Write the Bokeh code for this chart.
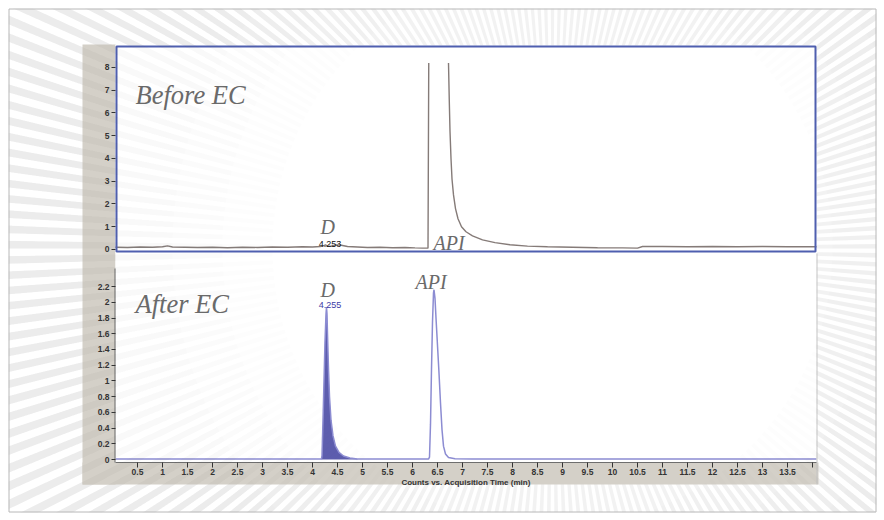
import numpy as np
from bokeh.plotting import figure
from bokeh.models import Range1d, FixedTicker, Label
from bokeh.embed import file_html
from bokeh.resources import INLINE

NaN = float("nan")

# ---------------- data ----------------
# Before EC trace (counts x10^5); NaN marks the saturated (off-scale) gap
before_time = [0.06, 0.3, 0.55, 0.8, 1.0, 1.1, 1.2, 1.45, 1.7, 2.0,
               2.3, 2.6, 2.9, 3.2, 3.5, 3.8, 4.0, 4.15, 4.22, 4.26,
               4.3, 4.38, 4.45, 4.55, 4.7, 4.9, 5.1, 5.35, 5.6, 5.85,
               6.05, 6.2, 6.31, 6.325, NaN, 6.72, 6.735, 6.75, 6.77, 6.79,
               6.82, 6.86, 6.91, 6.98, 7.07, 7.2, 7.4, 7.65, 7.95, 8.3,
               8.7, 9.2, 9.7, 10.2, 10.5, 10.6, 11.0, 11.5, 12.0, 12.5,
               13.0, 13.5, 14.08]
before_counts = [0.10, 0.09, 0.11, 0.10, 0.12, 0.16, 0.11, 0.10, 0.09, 0.10,
                 0.08, 0.10, 0.09, 0.11, 0.10, 0.12, 0.11, 0.13, 0.16, 0.20,
                 0.15, 0.14, 0.20, 0.20, 0.13, 0.11, 0.09, 0.10, 0.08, 0.09,
                 0.07, 0.06, 0.06, 8.2, NaN, 8.2, 6.6, 5.2, 4.0, 3.1,
                 2.4, 1.8, 1.35, 1.0, 0.78, 0.6, 0.42, 0.3, 0.21, 0.15,
                 0.12, 0.10, 0.08, 0.07, 0.06, 0.13, 0.13, 0.12, 0.13, 0.12,
                 0.13, 0.12, 0.12]
before_rt_label = "4.253"

# After EC trace (counts x10^7)
after_time = [0.06, 0.5, 1.0, 1.5, 2.0, 2.5, 3.0, 3.5, 4.0, 4.18,
              4.19, 4.21, 4.23, 4.25, 4.27, 4.28, 4.29, 4.30, 4.32, 4.34,
              4.37, 4.41, 4.46, 4.53, 4.62, 4.75, 4.9, 5.2, 5.6, 6.0,
              6.32, 6.34, 6.36, 6.38, 6.40, 6.42, 6.43, 6.45, 6.47, 6.50,
              6.53, 6.56, 6.59, 6.62, 6.66, 6.72, 6.85, 7.2, 8.0, 9.0,
              10.0, 11.0, 12.0, 13.0, 14.08]
after_counts = [0.005, 0.005, 0.005, 0.005, 0.005, 0.005, 0.005, 0.005, 0.005, 0.006,
                0.05, 0.5, 1.0, 1.5, 1.85, 1.94, 1.85, 1.6, 1.15, 0.8,
                0.5, 0.3, 0.17, 0.09, 0.045, 0.02, 0.008, 0.006, 0.005, 0.005,
                0.005, 0.03, 0.45, 1.15, 1.75, 2.12, 2.16, 2.05, 1.8, 1.45,
                1.1, 0.72, 0.38, 0.17, 0.07, 0.025, 0.01, 0.006, 0.005, 0.005,
                0.005, 0.005, 0.005, 0.005, 0.005]
# integrated D peak (filled) = samples 9..26 of the After EC trace
d_peak_time = after_time[9:27]
d_peak_counts = after_counts[9:27]
after_rt_label = "4.255"

x_ticks = [0.5, 1, 1.5, 2, 2.5, 3, 3.5, 4, 4.5, 5, 5.5, 6, 6.5, 7, 7.5,
           8, 8.5, 9, 9.5, 10, 10.5, 11, 11.5, 12, 12.5, 13, 13.5, 14]
x_tick_labels = ["0.5", "1", "1.5", "2", "2.5", "3", "3.5", "4", "4.5", "5",
                 "5.5", "6", "6.5", "7", "7.5", "8", "8.5", "9", "9.5", "10",
                 "10.5", "11", "11.5", "12", "12.5", "13", "13.5", ""]
top_y_ticks = [0, 1, 2, 3, 4, 5, 6, 7, 8]
top_y_labels = ["0", "1", "2", "3", "4", "5", "6", "7", "8"]
bottom_y_ticks = [0, 0.2, 0.4, 0.6, 0.8, 1.0, 1.2, 1.4, 1.6, 1.8, 2.0, 2.2]
bottom_y_labels = ["0", "0.2", "0.4", "0.6", "0.8", "1", "1.2", "1.4", "1.6",
                   "1.8", "2", "2.2"]

# ---------------- figure ----------------
X_RANGE = (0.06, 14.08)
BOT = (-0.038, 5.267)      # lower panel (x10^7) mapped over whole frame
TOP = (-9.363, 8.967)      # upper panel (x10^5) mapped over whole frame
W, H = 880, 516

p = figure(width=W, height=H, output_backend="svg", toolbar_location=None,
           x_range=Range1d(*X_RANGE), y_range=Range1d(*BOT),
           min_border_left=115, min_border_right=W - 816,
           min_border_top=45, min_border_bottom=H - 462,
           background_fill_color="white", border_fill_color="white",
           outline_line_color=None)
# page-pixel helper ranges for the decoration
p.extra_x_ranges = {"px": Range1d(115, 816)}
p.extra_y_ranges = {"top": Range1d(*TOP), "py": Range1d(462, 45)}
p.xgrid.visible = False
p.ygrid.visible = False
PX = dict(x_range_name="px", y_range_name="py")

# ---- page background: sunburst texture, border box ----
CX, CY = 552, 248
ang = np.deg2rad(np.arange(0, 360, 1.6))
p.annular_wedge(x=CX, y=CY, inner_radius=170, outer_radius=950,
                start_angle=ang, end_angle=ang + np.deg2rad(0.8),
                fill_color="#808080", fill_alpha=0.10, line_color=None,
                level="guide", **PX)
p.quad(left=[-20, 876, -20, -20], right=[8, 920, 920, 920],
       top=[-20, -20, -20, 512], bottom=[560, 560, 8, 560],
       fill_color="white", line_color=None, level="guide", **PX)

# ---- chart image panels ----
GRAY = "#d4d0c8"
p.quad(left=[82, 82], right=[115, 818], top=[44, 462], bottom=[484, 484],
       fill_color=GRAY, line_color=None, level="guide", **PX)
p.quad(left=[115], right=[816], top=[45], bottom=[462],
       fill_color="white", line_color=None, level="guide", **PX)

# ---- traces ----
p.line(before_time, before_counts, y_range_name="top", line_color="#857b78",
       line_width=1.4, level="guide")
p.varea(x=d_peak_time, y1=0, y2=d_peak_counts, fill_color="#5d5dae",
        level="guide")
p.line(after_time, after_counts, line_color="#8c8cd2", line_width=1.5,
       level="guide")

# ---- panel frames ----
p.quad(left=[116], right=[815], top=[46], bottom=[251],
       fill_color=None, line_color="#4f5faf", line_width=2,
       level="annotation", **PX)
p.segment(x0=[114.5, 816.5], y0=[268, 253], x1=[114.5, 816.5], y1=[462, 484],
          line_color=["#6a6a6a", "#c4c4c4"], line_width=1,
          level="annotation", **PX)

# ---- axes ----
def top_to_bottom(v):
    return BOT[0] + (v - TOP[0]) * (BOT[1] - BOT[0]) / (TOP[1] - TOP[0])

y_tick_pos = list(bottom_y_ticks) + [top_to_bottom(v) for v in top_y_ticks]
y_tick_txt = list(bottom_y_labels) + list(top_y_labels)
yax = p.yaxis[0]
yax.ticker = FixedTicker(ticks=y_tick_pos)
yax.major_label_overrides = {t: s for t, s in zip(y_tick_pos, y_tick_txt)}
yax.axis_line_color = None
yax.major_tick_line_color = "#333333"
yax.major_tick_out = 4
yax.major_tick_in = 0
yax.minor_tick_line_color = None
yax.major_label_standoff = 2
yax.major_label_text_font = "Liberation Sans"
yax.major_label_text_font_size = "8.5px"
yax.major_label_text_font_style = "bold"
yax.major_label_text_color = "#333333"
yax.level = "annotation"

xax = p.xaxis[0]
xax.ticker = FixedTicker(ticks=x_ticks)
xax.major_label_overrides = {t: s for t, s in zip(x_ticks, x_tick_labels)}
xax.axis_line_color = "#6e6e6e"
xax.major_tick_line_color = "#333333"
xax.major_tick_out = 5
xax.major_tick_in = 0
xax.minor_tick_line_color = None
xax.major_label_standoff = 1
xax.major_label_text_font = "Liberation Sans"
xax.major_label_text_font_size = "8.5px"
xax.major_label_text_font_style = "bold"
xax.major_label_text_color = "#333333"
xax.axis_label = "Counts vs. Acquisition Time (min)"
xax.axis_label_standoff = 0
xax.axis_label_text_font = "Liberation Sans"
xax.axis_label_text_font_size = "8px"
xax.axis_label_text_font_style = "bold"
xax.axis_label_text_color = "#333333"
xax.level = "annotation"

# ---- texts ----
def add_label(x, y, text, font="Liberation Serif", size="20px", style="italic",
              color="#6a6a6a", align="left"):
    p.add_layout(Label(x=x, y=y, text=text,
                       text_font=font, text_font_size=size, text_font_style=style,
                       text_color=color, text_align=align,
                       text_baseline="alphabetic", **PX))

add_label(135, 94, "Before EC", size="26.5px")
add_label(135, 303, "After EC", size="26.5px")
add_label(320, 226, "D")
add_label(433, 242, "API")
add_label(320, 289, "D")
add_label(415, 281, "API")
add_label(329.5, 243, before_rt_label, font="Liberation Sans", size="9px",
          style="normal", color="#111111", align="center")
add_label(329.5, 304, after_rt_label, font="Liberation Sans", size="9px",
          style="normal", color="#3b3ba6", align="center")
for yb, ys, sup in [(59.5, 56, "5"), (269, 265.5, "7")]:
    add_label(86, yb, "x10", font="Liberation Sans", size="8px", style="bold",
              color="#333333")
    add_label(104, ys, sup, font="Liberation Sans", size="7px", style="bold",
              color="#333333")

# ---- faint texture showing through the chart image (soft fade) ----
for r_in, a in [(280, 0.015), (330, 0.015), (380, 0.015)]:
    p.annular_wedge(x=CX, y=CY, inner_radius=r_in, outer_radius=950,
                    start_angle=ang, end_angle=ang + np.deg2rad(0.8),
                    fill_color="#808080", fill_alpha=a, line_color=None,
                    level="overlay", **PX)
p.quad(left=[-20, 876, -20, -20], right=[8, 920, 920, 920],
       top=[-20, -20, -20, 512], bottom=[560, 560, 8, 560],
       fill_color="white", line_color=None, level="overlay", **PX)
p.quad(left=[8.5], right=[875.5], top=[8.5], bottom=[511.5],
       fill_color=None, line_color="#b8b8b8", line_width=1, level="overlay", **PX)

open("out.html", "w").write(file_html(p, INLINE))
